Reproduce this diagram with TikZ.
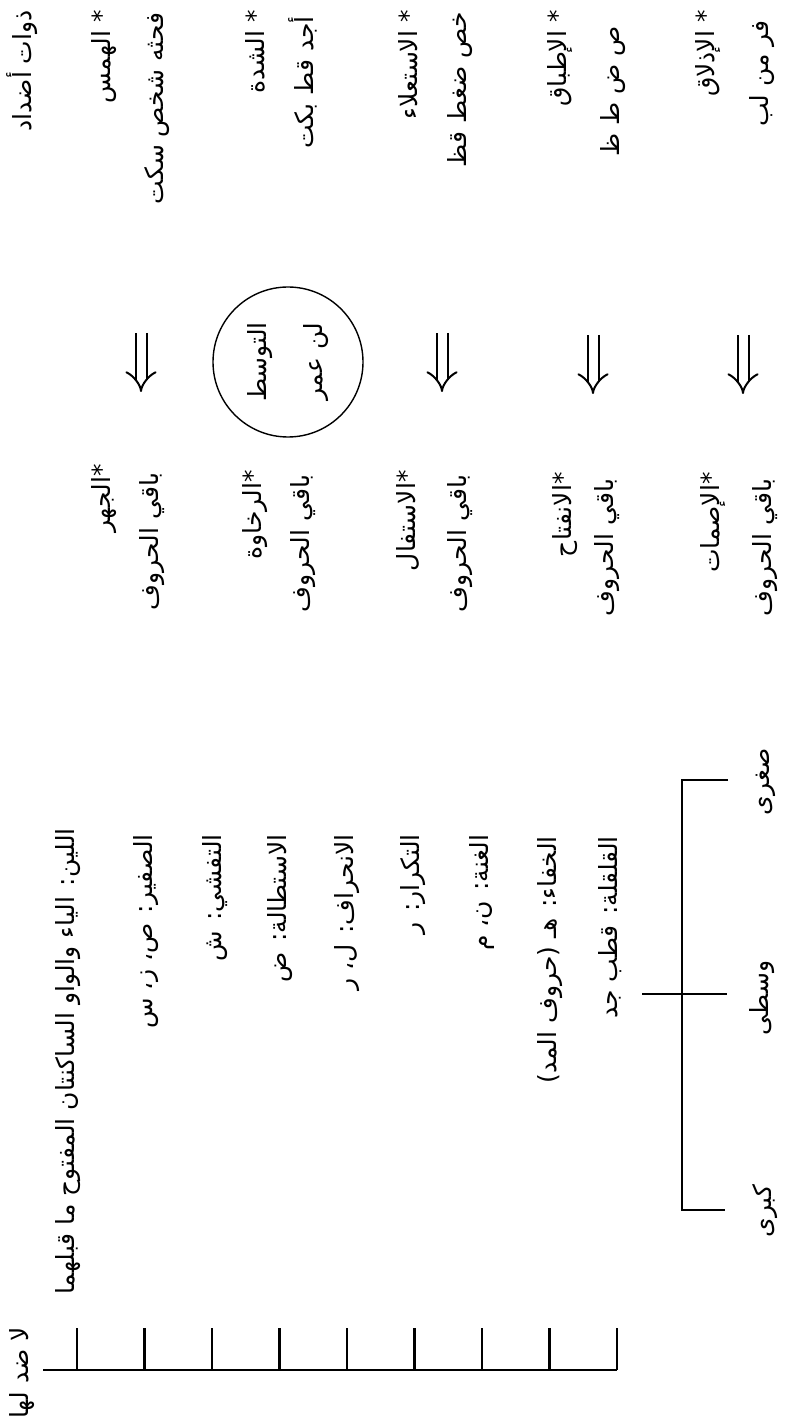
\documentclass[tikz,border=0pt]{standalone}
\usepackage{fontspec}
\usepackage{tikz}
\usetikzlibrary{arrows.meta}
\newfontfamily\arabicfont[Script=Arabic]{DejaVu Sans}
\TeXXeTstate=1
\newcommand{\artext}[1]{\beginR #1\endR}

\begin{document}
\begin{tikzpicture}[x=0.5pt, y=-0.5pt,
  every node/.style={font=\arabicfont\fontsize{12.5}{15}\selectfont, inner sep=1pt},
  vtext/.style={rotate=90, anchor=east},
  ltext/.style={rotate=90},
  ringbox/.style={circle, draw, line width=0.7pt, minimum size=75pt, rotate=90,
    align=center, font=\arabicfont\fontsize{12.5}{28}\selectfont},
  dblarr/.style={double, double distance=4.5pt, line width=1pt, -{Implies}},
  rule/.style={line width=1.4pt}
]
  \useasboundingbox (0,0) rectangle (787,1422);

  % attributes with opposites
  \node[vtext] (head) at (22,8) {\artext{ذوات أضداد}};

  \node[vtext] (hams)   at (104,8)  {\artext{* الهمس}};
  \node[vtext] (hamsL)  at (157,10) {\artext{فحثه شخص سكت}};
  \node[vtext] (shidda) at (255,8)  {\artext{* الشدة}};
  \node[vtext] (shiddaL) at (303,14) {\artext{أجد قط بكت}};
  \node[vtext] (istila) at (408,8)  {\artext{* الاستعلاء}};
  \node[vtext] (istilaL) at (460,10) {\artext{خص ضغط قظ}};
  \node[vtext] (itbaq)  at (560,8)  {\artext{* الإطباق}};
  \node[vtext] (itbaqL) at (613,24) {\artext{ص ض ط ظ}};
  \node[vtext] (idhlaq) at (708,8)  {\artext{* الإذلاق}};
  \node[vtext] (idhlaqL) at (762,18) {\artext{فر من لب}};

  \coordinate (a1s) at (141,333); \coordinate (a1e) at (141,392);
  \coordinate (a3s) at (442,333); \coordinate (a3e) at (442,392);
  \coordinate (a4s) at (593,335); \coordinate (a4e) at (593,394);
  \coordinate (a5s) at (743,335); \coordinate (a5e) at (743,394);
  \draw[dblarr] (a1s) -- (a1e);
  \draw[dblarr] (a3s) -- (a3e);
  \draw[dblarr] (a4s) -- (a4e);
  \draw[dblarr] (a5s) -- (a5e);

  \node[ringbox] (tawassut) at (288,362) {\artext{التوسط}\\\artext{لن عمر}};

  \node[vtext] (jahr)    at (104,462) {\artext{*الجهر}};
  \node[vtext] (jahrL)   at (152,470) {\artext{باقي الحروف}};
  \node[vtext] (rakhawa) at (255,468) {\artext{*الرخاوة}};
  \node[vtext] (rakhawaL) at (303,472) {\artext{باقي الحروف}};
  \node[vtext] (istifal) at (408,468) {\artext{*الاستفال}};
  \node[vtext] (istifalL) at (460,472) {\artext{باقي الحروف}};
  \node[vtext] (infitah) at (565,470) {\artext{*الانفتاح}};
  \node[vtext] (infitahL) at (607,476) {\artext{باقي الحروف}};
  \node[vtext] (ismat)   at (713,470) {\artext{*الإصمات}};
  \node[vtext] (ismatL)  at (765,476) {\artext{باقي الحروف}};

  % attributes without opposites
  \node[vtext] (nodd) at (22,1325) {\artext{لا ضد لها}};

  \node[vtext] (lin)     at (68,826)  {\artext{اللين: الياء والواو الساكنتان المفتوح ما قبلهما}};
  \node[vtext] (safir)   at (146,832) {\artext{الصفير: ص، ز، س}};
  \node[vtext] (tafashi) at (215,832) {\artext{التفشي: ش}};
  \node[vtext] (istitala) at (280,832) {\artext{الاستطالة: ض}};
  \node[vtext] (inhiraf) at (347,832) {\artext{الانحراف: ل، ر}};
  \node[vtext] (takrar)  at (413,832) {\artext{التكرار: ر}};
  \node[vtext] (ghunna)  at (482,832) {\artext{الغنة: ن، م}};
  \node[vtext] (khafa)   at (550,834) {\artext{الخفاء: هـ (حروف المد)}};
  \node[vtext] (qalqala) at (610,834) {\artext{القلقلة: قطب جد}};

  \draw[rule] (43,1370) -- (617,1370);
  \foreach \xx in {77,144.5,212,279.5,347,414.5,482,549.5,617}
    \draw[rule] (\xx,1328) -- (\xx,1370);

  % degrees of qalqala
  \draw[rule] (728,780) -- (682,780) -- (682,1210) -- (725,1210);
  \draw[rule] (642,994) -- (727,994);
  \node[ltext] (sughra) at (766,782)  {\artext{صغرى}};
  \node[ltext] (wusta)  at (762,998)  {\artext{وسطى}};
  \node[ltext] (kubra)  at (765,1211) {\artext{كبرى}};
\end{tikzpicture}
\end{document}
